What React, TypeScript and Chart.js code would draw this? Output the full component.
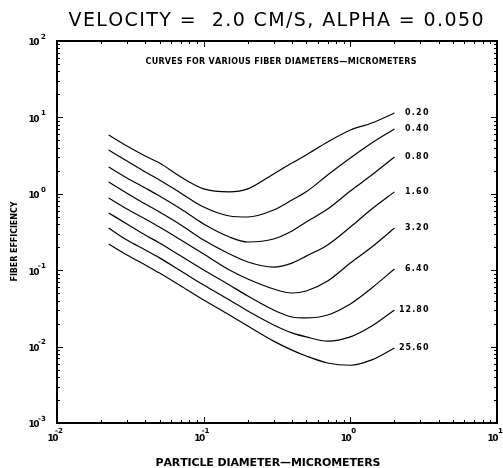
import React, { useEffect, useRef } from "react";
import { Chart, registerables } from "chart.js";

Chart.register(...registerables);

// Particle diameter (micrometers) shared by all curves
const X_VALUES = [0.0225, 0.03, 0.04, 0.05, 0.07, 0.1, 0.15, 0.2, 0.3, 0.4, 0.5, 0.7, 1.0, 1.4, 2.0];

// Fiber efficiency for each fiber diameter
const EFF_020 = [5.89, 4.23, 3.12, 2.53, 1.66, 1.16, 1.06, 1.16, 1.82, 2.53, 3.22, 4.76, 6.84, 8.45, 11.4];
const EFF_040 = [3.74, 2.69, 1.93, 1.52, 1.02, 0.671, 0.512, 0.497, 0.614, 0.83, 1.06, 1.76, 2.94, 4.62, 7.05];
const EFF_080 = [2.24, 1.61, 1.19, 0.936, 0.632, 0.403, 0.272, 0.234, 0.256, 0.326, 0.428, 0.632, 1.09, 1.76, 3.03];
const EFF_160 = [1.43, 1.02, 0.735, 0.578, 0.391, 0.248, 0.163, 0.128, 0.11, 0.124, 0.153, 0.214, 0.367, 0.632, 1.06];
const EFF_320 = [0.881, 0.632, 0.468, 0.367, 0.248, 0.163, 0.1007, 0.0767, 0.0568, 0.0503, 0.0534, 0.0722, 0.124, 0.201, 0.356];
const EFF_640 = [0.561, 0.403, 0.289, 0.227, 0.153, 0.1007, 0.064, 0.0459, 0.0301, 0.0244, 0.0237, 0.0259, 0.0361, 0.0585, 0.1037];
const EFF_1280 = [0.356, 0.248, 0.184, 0.145, 0.0977, 0.064, 0.0407, 0.0292, 0.0192, 0.0151, 0.0134, 0.0118, 0.0134, 0.0186, 0.0301];
const EFF_2560 = [0.22, 0.158, 0.117, 0.0919, 0.0621, 0.0407, 0.0259, 0.0186, 0.0118, 0.009, 0.00753, 0.0061, 0.0057, 0.0067, 0.0096];

const SERIES = [EFF_020, EFF_040, EFF_080, EFF_160, EFF_320, EFF_640, EFF_1280, EFF_2560];
const CURVE_LABELS = ["0.20", "0.40", "0.80", "1.60", "3.20", "6.40", "12.80", "25.60"];

const X_TICKS = [0.01, 0.1, 1, 10];
const Y_TICKS = [0.001, 0.01, 0.1, 1, 10, 100];

const TITLE = "VELOCITY =  2.0 CM/S, ALPHA = 0.050";
const SUBTITLE = "CURVES FOR VARIOUS FIBER DIAMETERS\u2014MICROMETERS";
const X_TITLE = "PARTICLE DIAMETER\u2014MICROMETERS";
const Y_TITLE = "FIBER EFFICIENCY";

const FONT = '"DejaVu Sans", sans-serif';

function drawSpaced(ctx: CanvasRenderingContext2D, text: string, cx: number, y: number, width: number) {
  const chars = Array.from(text);
  const widths = chars.map((c) => ctx.measureText(c).width);
  const total = widths.reduce((a, b) => a + b, 0);
  const extra = chars.length > 1 ? (width - total) / (chars.length - 1) : 0;
  let x = cx - width / 2;
  ctx.textAlign = "left";
  chars.forEach((c, i) => {
    ctx.fillText(c, x, y);
    x += widths[i] + extra;
  });
}

const annotPlugin = {
  id: "annot",
  afterDraw(chart: any) {
    const { ctx, chartArea, scales } = chart;
    const { left, right, top, bottom } = chartArea;
    const xs = scales.x;
    const ys = scales.y;
    ctx.save();
    ctx.strokeStyle = "#000";
    ctx.fillStyle = "#000";
    ctx.lineWidth = 2;
    ctx.strokeRect(left, top, right - left, bottom - top);

    // inward tick marks
    ctx.lineWidth = 1;
    ctx.beginPath();
    for (let d = -2; d <= 0; d++) {
      for (let m = 1; m <= 9; m++) {
        const v = m * Math.pow(10, d);
        const px = Math.round(xs.getPixelForValue(v)) + 0.5;
        const len = m === 1 ? 6 : 3;
        ctx.moveTo(px, bottom);
        ctx.lineTo(px, bottom - len);
        ctx.moveTo(px, top);
        ctx.lineTo(px, top + len);
      }
    }
    for (let d = -3; d <= 1; d++) {
      for (let m = 1; m <= 9; m++) {
        const v = m * Math.pow(10, d);
        const py = Math.round(ys.getPixelForValue(v)) + 0.5;
        const len = m === 1 ? 6 : 3;
        ctx.moveTo(left, py);
        ctx.lineTo(left + len, py);
        ctx.moveTo(right, py);
        ctx.lineTo(right - len, py);
      }
    }
    ctx.stroke();

    ctx.textBaseline = "middle";
    // y tick labels
    Y_TICKS.forEach((v) => {
      const py = ys.getPixelForValue(v);
      const e = Math.round(Math.log10(v));
      ctx.font = `bold 9px ${FONT}`;
      drawSpaced(ctx, "10", 34, py + 2, 11);
      ctx.font = `bold 7px ${FONT}`;
      ctx.textAlign = "left";
      ctx.fillText(String(e), e < 0 ? 38 : 41, py - 4);
    });
    // x tick labels
    X_TICKS.forEach((v) => {
      const px = xs.getPixelForValue(v);
      const e = Math.round(Math.log10(v));
      ctx.font = `bold 9px ${FONT}`;
      drawSpaced(ctx, "10", px - 4, 439, 11);
      ctx.font = `bold 7px ${FONT}`;
      ctx.textAlign = "left";
      ctx.fillText(String(e), e < 0 ? px - 2 : px + 1, 431);
    });

    // titles
    ctx.font = `19px ${FONT}`;
    drawSpaced(ctx, TITLE, 276, 21, 415);
    ctx.font = `bold 8px ${FONT}`;
    drawSpaced(ctx, SUBTITLE, 281, 62, 271);
    ctx.font = `bold 11px ${FONT}`;
    drawSpaced(ctx, X_TITLE, 268, 463, 225);
    ctx.save();
    ctx.translate(15, 241.5);
    ctx.rotate(-Math.PI / 2);
    ctx.font = `bold 8px ${FONT}`;
    drawSpaced(ctx, Y_TITLE, 0, 0, 80);
    ctx.restore();

    // curve labels
    ctx.font = `bold 8px ${FONT}`;
    CURVE_LABELS.forEach((lab, i) => {
      const meta = chart.getDatasetMeta(i);
      const last = meta.data[meta.data.length - 1];
      const w = lab.length * 5.9;
      drawSpaced(ctx, lab, last.x + 34 - w / 2, last.y, w);
    });
    ctx.restore();
  },
};

export default function App() {
  const ref = useRef<HTMLCanvasElement>(null);
  useEffect(() => {
    const chart = new Chart(ref.current as HTMLCanvasElement, {
      type: "line",
      data: {
        datasets: SERIES.map((ys, i) => ({
          label: CURVE_LABELS[i],
          data: X_VALUES.map((x, j) => ({ x, y: ys[j] })),
          borderColor: "#000",
          borderWidth: 1.2,
          pointRadius: 0,
          fill: false,
          cubicInterpolationMode: "monotone" as const,
        })),
      },
      options: {
        animation: false,
        responsive: false,
        layout: { padding: { left: 57, top: 41, right: 6, bottom: 45 } },
        scales: {
          x: {
            type: "logarithmic",
            display: false,
            min: 0.01,
            max: 10,
          },
          y: {
            type: "logarithmic",
            display: false,
            min: 0.001,
            max: 100,
          },
        },
        plugins: { legend: { display: false }, tooltip: { enabled: false }, title: { display: false } },
      },
      plugins: [annotPlugin],
    } as any);
    return () => chart.destroy();
  }, []);
  return (
    <div style={{ position: "absolute", left: 0, top: 0, width: 503, height: 468, background: "#fff" }}>
      <canvas ref={ref} width={503} height={468} style={{ display: "block", width: 503, height: 468 }} />
    </div>
  );
}
